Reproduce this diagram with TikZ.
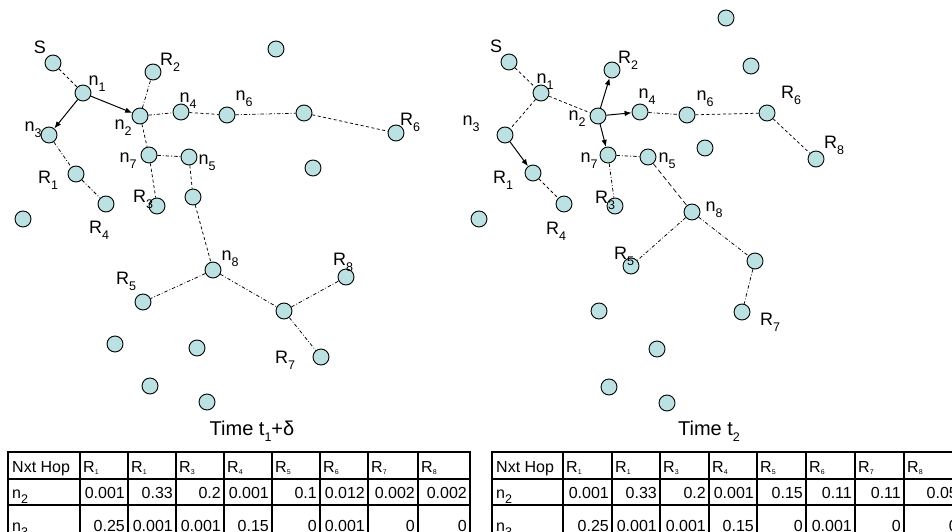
\documentclass[tikz,border=0pt]{standalone}
\usepackage{fontspec}
\setmainfont{Liberation Sans}
\usetikzlibrary{arrows.meta}

\definecolor{nodefill}{RGB}{187,225,227}

% label with a lowered index
\newcommand\lsub[1]{\raisebox{-0.32em}{\fontsize{12.5}{12.5}\selectfont #1}}
% tiny index used in the table head
\newcommand\hsub[1]{\raisebox{-2.6pt}{\fontsize{7}{7}\selectfont #1}}

\tikzset{
  circ/.style={circle, draw=black, fill=nodefill, line width=0.9pt,
               minimum size=16pt, inner sep=0pt},
  lab/.style={font=\fontsize{18}{18}\selectfont, inner sep=0pt},
  ttl/.style={font=\fontsize{20}{20}\selectfont, inner sep=0pt},
  cell/.style={font=\fontsize{16}{16}\selectfont, inner sep=0pt},
  dsh/.style={line width=0.75pt, dash pattern=on 3pt off 2.5pt},
  ddot/.style={line width=0.75pt, dash pattern=on 3.5pt off 2pt on 0.8pt off 2pt},
  ldsh/.style={line width=0.75pt, dash pattern=on 5pt off 3pt},
  arr/.style={line width=1pt, -{Latex[length=7pt,width=5.5pt]}},
  grid/.style={line width=1.3pt, line cap=rect},
}

\begin{document}
\begin{tikzpicture}[x=1pt,y=-1pt]
\useasboundingbox (0,0) rectangle (952,532);
\clip (0,0) rectangle (952,532);
\fill[white] (0,0) rectangle (952,532);

% ---------------- left network: time t1 + delta ----------------
\node[circ] (aS)  at (53,63) {};
\node[circ] (an1) at (83,93) {};
\node[circ] (aR2) at (153,72) {};
\node[circ] (an2) at (140,116) {};
\node[circ] (an3) at (49,135) {};
\node[circ] (an4) at (181,112) {};
\node[circ] (an6) at (227,115) {};
\node[circ] (aa)  at (304,113) {};
\node[circ] (aR6) at (396,133) {};
\node[circ] (atop) at (276,49) {};
\node[circ] (an7) at (149,155) {};
\node[circ] (an5) at (189,157) {};
\node[circ] (aR1) at (76,174) {};
\node[circ] (aR4) at (106,204) {};
\node[circ] (aR3) at (157,206) {};
\node[circ] (ab)  at (193,197) {};
\node[circ] (ac)  at (313,168) {};
\node[circ] (ad)  at (23,219) {};
\node[circ] (an8) at (213,270) {};
\node[circ] (aR5) at (143,302) {};
\node[circ] (ae)  at (284,311) {};
\node[circ] (aR8) at (346,277) {};
\node[circ] (aR7) at (321,357) {};
\node[circ] (af)  at (115,344) {};
\node[circ] (ag)  at (197,348) {};
\node[circ] (ah)  at (150,386) {};
\node[circ] (ai)  at (207,402) {};

\draw[dsh]  (aS) -- (an1);
\draw[arr]  (an1) -- (an3);
\draw[arr]  (an1) -- (an2);
\draw[ddot] (an2) -- (aR2);
\draw[ddot] (an2) -- (an4);
\draw[dsh]  (an4) -- (an6);
\draw[ddot] (an6) -- (aa);
\draw[dsh]  (aa) -- (aR6);
\draw[dsh]  (an2) -- (an7);
\draw[ddot] (an7) -- (an5);
\draw[dsh]  (an7) -- (aR3);
\draw[dsh]  (an5) -- (ab);
\draw[dsh]  (ab) -- (an8);
\draw[ddot] (an3) -- (aR1);
\draw[ddot] (aR1) -- (aR4);
\draw[ddot] (an8) -- (aR5);
\draw[ddot] (an8) -- (ae);
\draw[ddot] (ae) -- (aR8);
\draw[ddot] (ae) -- (aR7);

\node[lab] (taS)  at (40,47)   {S};
\node[lab] (tan1) at (97,84)   {n\lsub{1}};
\node[lab] (taR2) at (170,62)  {R\lsub{2}};
\node[lab] (tan2) at (123,128) {n\lsub{2}};
\node[lab] (tan3) at (33,130)  {n\lsub{3}};
\node[lab] (tan4) at (188,101) {n\lsub{4}};
\node[lab] (tan6) at (244,99)  {n\lsub{6}};
\node[lab] (taR6) at (410,122) {R\lsub{6}};
\node[lab] (tan7) at (128,161) {n\lsub{7}};
\node[lab] (tan5) at (207,163) {n\lsub{5}};
\node[lab] (taR1) at (48,180)  {R\lsub{1}};
\node[lab] (taR3) at (143,199) {R\lsub{3}};
\node[lab] (taR4) at (99,230)  {R\lsub{4}};
\node[lab] (tan8) at (230,259) {n\lsub{8}};
\node[lab] (taR5) at (126,281) {R\lsub{5}};
\node[lab] (taR8) at (343,262) {R\lsub{8}};
\node[lab] (taR7) at (285,360) {R\lsub{7}};

\node[ttl] (atitle) at (252,431) {Time t\lsub{1}+δ};

% ---------------- right network: time t2 ----------------
\node[circ] (bS)  at (509,62) {};
\node[circ] (bn1) at (541,93) {};
\node[circ] (bR2) at (612,70) {};
\node[circ] (bn2) at (598,116) {};
\node[circ] (bn4) at (640,112) {};
\node[circ] (bn6) at (687,115) {};
\node[circ] (bR6) at (767,113) {};
\node[circ] (bR8) at (816,159) {};
\node[circ] (btop) at (726,18) {};
\node[circ] (bj)  at (751,66) {};
\node[circ] (bk)  at (705,148) {};
\node[circ] (bn3) at (505,135) {};
\node[circ] (bR1) at (533,173) {};
\node[circ] (bn7) at (608,155) {};
\node[circ] (bn5) at (648,157) {};
\node[circ] (bR4) at (564,204) {};
\node[circ] (bR3) at (615,206) {};
\node[circ] (bn8) at (692,212) {};
\node[circ] (bl)  at (479,219) {};
\node[circ] (bR5) at (631,266) {};
\node[circ] (bm)  at (755,261) {};
\node[circ] (bR7) at (742,312) {};
\node[circ] (bp)  at (599,311) {};
\node[circ] (bq)  at (657,349) {};
\node[circ] (br)  at (609,387) {};
\node[circ] (bs)  at (667,403) {};

\draw[dsh]  (bS) -- (bn1);
\draw[dsh]  (bn1) -- (bn2);
\draw[dsh]  (bn1) -- (bn3);
\draw[arr]  (bn3) -- (bR1);
\draw[dsh]  (bR1) -- (bR4);
\draw[arr]  (bn2) -- (bR2);
\draw[arr]  (bn2) -- (bn4);
\draw[arr]  (bn2) -- (bn7);
\draw[ddot] (bn4) -- (bn6);
\draw[dsh]  (bn6) -- (bR6);
\draw[dsh]  (bR6) -- (bR8);
\draw[ddot] (bn7) -- (bn5);
\draw[ddot] (bn7) -- (bR3);
\draw[ldsh] (bn5) -- (bn8);
\draw[ddot] (bn8) -- (bR5);
\draw[ddot] (bn8) -- (bm);
\draw[ddot] (bm) -- (bR7);

\node[lab] (tbS)  at (496,46)  {S};
\node[lab] (tbn1) at (545,82)  {n\lsub{1}};
\node[lab] (tbR2) at (628,60)  {R\lsub{2}};
\node[lab] (tbn2) at (577,119) {n\lsub{2}};
\node[lab] (tbn3) at (471,124) {n\lsub{3}};
\node[lab] (tbn4) at (647,97)  {n\lsub{4}};
\node[lab] (tbn6) at (705,99)  {n\lsub{6}};
\node[lab] (tbR6) at (791,95)  {R\lsub{6}};
\node[lab] (tbR8) at (834,145) {R\lsub{8}};
\node[lab] (tbR1) at (503,180) {R\lsub{1}};
\node[lab] (tbn7) at (589,161) {n\lsub{7}};
\node[lab] (tbn5) at (667,161) {n\lsub{5}};
\node[lab] (tbR3) at (605,200) {R\lsub{3}};
\node[lab] (tbn8) at (714,210) {n\lsub{8}};
\node[lab] (tbR4) at (556,231) {R\lsub{4}};
\node[lab] (tbR5) at (624,256) {R\lsub{5}};
\node[lab] (tbR7) at (770,322) {R\lsub{7}};

\node[ttl] (btitle) at (709,431) {Time t\lsub{2}};

% ---------------- next-hop tables ----------------
% left table
\foreach \x in {8,80,128,176,224,272,320,368,418,470}
  \draw[grid] (\x,452) -- (\x,545);
\foreach \y in {452,479,505}
  \draw[grid] (8,\y) -- (470,\y);
\node[cell, anchor=base west] (ahd) at (12,472) {Nxt Hop};
\node[cell, anchor=base west] (ar2) at (12,498) {n\lsub{2}};
\node[cell, anchor=base west] (ar3) at (12,531) {n\lsub{3}};
\foreach \l/\r/\h/\p/\q in {80/128/1/0.001/0.25, 128/176/1/0.33/0.001,
    176/224/3/0.2/0.001, 224/272/4/0.001/0.15, 272/320/5/0.1/0,
    320/368/6/0.012/0.001, 368/418/7/0.002/0, 418/470/8/0.002/0}{
  \node[cell, anchor=base west] (ah\l) at (\l+3,472) {R\hsub{\h}};
  \node[cell, anchor=base east] (ap\l) at (\r-3,498) {\p};
  \node[cell, anchor=base east] (aq\l) at (\r-3,531) {\q};
}

% right table
\foreach \x in {492,563,612,660,709,757,806,855,904,961}
  \draw[grid] (\x,452) -- (\x,545);
\foreach \y in {452,479,505}
  \draw[grid] (492,\y) -- (961,\y);
\node[cell, anchor=base west] (bhd) at (496,472) {Nxt Hop};
\node[cell, anchor=base west] (br2) at (496,498) {n\lsub{2}};
\node[cell, anchor=base west] (br3) at (496,531) {n\lsub{3}};
\foreach \l/\r/\h/\p/\q in {563/612/1/0.001/0.25, 612/660/1/0.33/0.001,
    660/709/3/0.2/0.001, 709/757/4/0.001/0.15, 757/806/5/0.15/0,
    806/855/6/0.11/0.001, 855/904/7/0.11/0, 904/961/8/0.05/0}{
  \node[cell, anchor=base west] (bh\l) at (\l+3,472) {R\hsub{\h}};
  \node[cell, anchor=base east] (bp\l) at (\r-3,498) {\p};
  \node[cell, anchor=base east] (bq\l) at (\r-3,531) {\q};
}
\end{tikzpicture}
\end{document}
